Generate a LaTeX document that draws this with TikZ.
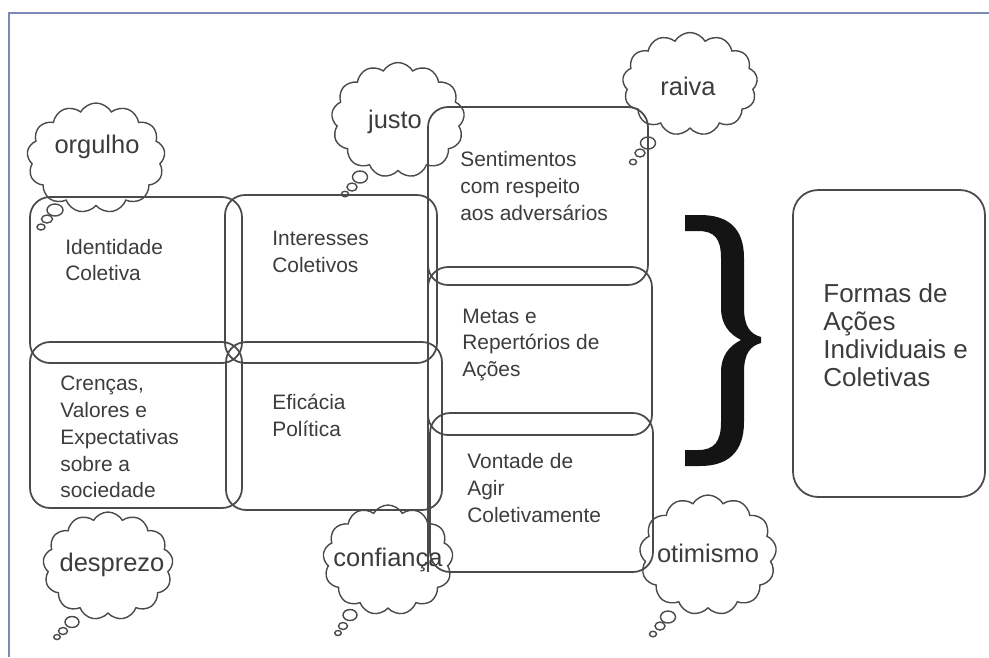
\documentclass[tikz,border=0pt]{standalone}
\usepackage{fontspec}
\setmainfont{Liberation Sans}
\usetikzlibrary{shapes.symbols}
\definecolor{framecol}{HTML}{8088B8}
\definecolor{ink}{HTML}{4A4A4A}
\definecolor{txt}{HTML}{3C3C3C}
\begin{document}
\begin{tikzpicture}[x=0.02cm,y=-0.02cm,
 box/.style={draw=ink, line width=1pt, rounded corners=0.4cm, inner sep=0, outer sep=0},
 boxtext/.style={anchor=west, align=left, inner sep=0, text=txt, font=\fontsize{11.9}{15.3}\selectfont},
 thought/.style={cloud, draw=ink, line width=0.8pt, cloud puffs=13, cloud puff arc=120, inner sep=0, outer sep=0},
 thoughttext/.style={text=txt, inner sep=0, font=\fontsize{14.5}{16}\selectfont},
 bubble/.style={draw=ink, line width=0.8pt}]
\useasboundingbox (0,0) rectangle (989,657);
\draw[framecol, line width=1.2pt] (9,657) -- (9,13) -- (989,13);

% boxes
\node[box, minimum width=4.24cm, minimum height=3.32cm] (ident) at (136,280) {};
\node[box, minimum width=4.24cm, minimum height=3.36cm] (inter) at (331,279) {};
\node[box, minimum width=4.24cm, minimum height=3.32cm] (cren) at (136,425) {};
\node[box, minimum width=4.32cm, minimum height=3.36cm] (efic) at (334,426) {};
\node[box, minimum width=4.40cm, minimum height=3.56cm] (sent) at (538,196) {};
\node[box, minimum width=4.48cm, minimum height=3.36cm] (metas) at (540,351) {};
\node[box, minimum width=4.46cm, minimum height=3.18cm] (vont) at (541.5,492.5) {};
\node[box, rounded corners=0.5cm, minimum width=3.84cm, minimum height=6.14cm] (formas) at (889,343.5) {};

\coordinate (vtop) at (428,143);
\coordinate (vbot) at (428,572);
\draw[ink, line width=1pt] (vtop) -- (vbot);

% box texts
\node[boxtext] (identT) at (65,260) {Identidade\\Coletiva};
\node[boxtext] (interT) at (272,252) {Interesses\\Coletivos};
\node[boxtext] (crenT) at (60,437) {Crenças,\\Valores e\\Expectativas\\sobre a\\sociedade};
\node[boxtext] (eficT) at (272,415) {Eficácia\\Política};
\node[boxtext] (sentT) at (460,186) {Sentimentos\\com respeito\\aos adversários};
\node[boxtext] (metasT) at (462,345) {Metas e\\Repertórios de\\Ações};
\node[boxtext] (vontT) at (467,488) {Vontade de\\Agir\\Coletivamente};
\node[boxtext, font=\fontsize{14.8}{16}\selectfont] (formasT) at (823,335) {Formas de\\Ações\\Individuais e\\Coletivas};

% brace
\fill[black!92] (685,215) -- (700,215) .. controls (728,215) and (744,228) .. (744,258) -- (744,308)
  .. controls (744,326) and (750,334) .. (761,337) -- (761,343)
  .. controls (750,346) and (744,354) .. (744,372) -- (744,422)
  .. controls (744,452) and (728,466) .. (700,466) -- (685,466) -- (685,450) -- (698,450)
  .. controls (714,450) and (721,442) .. (721,422) -- (721,372)
  .. controls (721,356) and (729,346) .. (741,340)
  .. controls (729,334) and (721,324) .. (721,308) -- (721,258)
  .. controls (721,238) and (714,231) .. (698,231) -- (685,231) -- cycle;

% thought clouds
\node[thought, minimum width=2.76cm, minimum height=2.2cm] (orgC) at (96,158) {};
\node[thoughttext] (orgT) at (97,147) {orgulho};
\draw[bubble] (55,210) ellipse [x radius=0.16cm, y radius=0.12cm];
\draw[bubble] (47,219) ellipse [x radius=0.11cm, y radius=0.08cm];
\draw[bubble] (41,227) ellipse [x radius=0.08cm, y radius=0.06cm];

\node[thought, minimum width=2.66cm, minimum height=2.3cm] (jusC) at (398,120) {};
\node[thoughttext] (jusT) at (395,122) {justo};
\draw[bubble] (360,177) ellipse [x radius=0.15cm, y radius=0.12cm];
\draw[bubble] (352,187) ellipse [x radius=0.10cm, y radius=0.08cm];
\draw[bubble] (345,194) ellipse [x radius=0.07cm, y radius=0.055cm];

\node[thought, minimum width=2.7cm, minimum height=2.06cm] (raiC) at (690,84) {};
\node[thoughttext] (raiT) at (688,86) {raiva};
\draw[bubble] (648,143) ellipse [x radius=0.15cm, y radius=0.12cm];
\draw[bubble] (640,153) ellipse [x radius=0.10cm, y radius=0.08cm];
\draw[bubble] (633,162) ellipse [x radius=0.07cm, y radius=0.055cm];

\node[thought, minimum width=2.6cm, minimum height=2.16cm] (desC) at (108,566) {};
\node[thoughttext] (desT) at (112,565) {desprezo};
\draw[bubble] (72,622) ellipse [x radius=0.14cm, y radius=0.11cm];
\draw[bubble] (63,631) ellipse [x radius=0.09cm, y radius=0.07cm];
\draw[bubble] (57,637) ellipse [x radius=0.065cm, y radius=0.05cm];

\node[thought, minimum width=2.6cm, minimum height=2.2cm] (conC) at (388,560) {};
\node[thoughttext] (conT) at (388,560) {confiança};
\draw[bubble] (350,615) ellipse [x radius=0.14cm, y radius=0.11cm];
\draw[bubble] (343,626) ellipse [x radius=0.09cm, y radius=0.07cm];
\draw[bubble] (338,633) ellipse [x radius=0.065cm, y radius=0.05cm];

\node[thought, minimum width=2.74cm, minimum height=2.4cm] (otiC) at (708,555) {};
\node[thoughttext] (otiT) at (708,553) {otimismo};
\draw[bubble] (668,617) ellipse [x radius=0.15cm, y radius=0.12cm];
\draw[bubble] (660,626) ellipse [x radius=0.10cm, y radius=0.08cm];
\draw[bubble] (653,634) ellipse [x radius=0.07cm, y radius=0.055cm];
\end{tikzpicture}
\end{document}
